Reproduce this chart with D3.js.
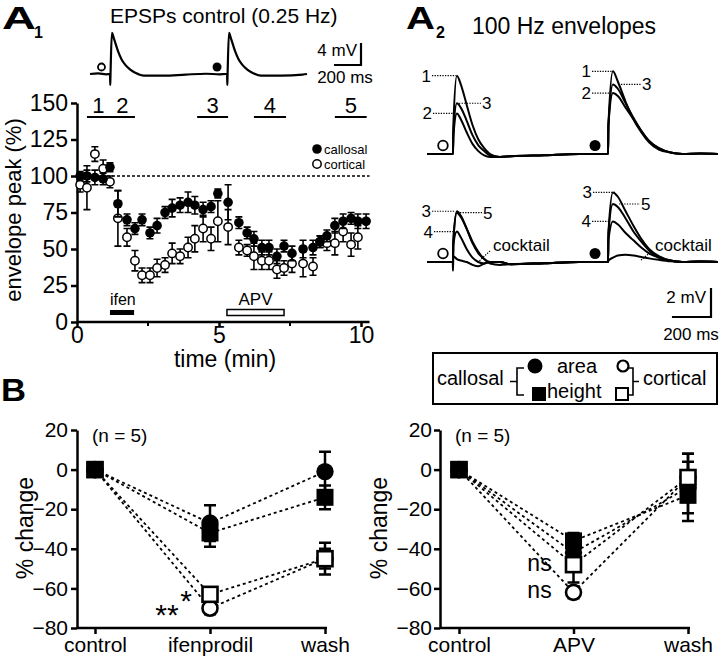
<!DOCTYPE html>
<html><head><meta charset="utf-8">
<script src="https://cdn.jsdelivr.net/npm/d3@7"></script>
<style>
body{margin:0;background:#fff}
svg{display:block;background:#fff}
text{font-family:"Liberation Sans",Arial,Helvetica,sans-serif;fill:#000}
</style>
</head><body>
<svg id="c" width="720" height="658"></svg>
<script>
// ================= DATA =================
// A1 time course (minutes) and envelope peak (%)
const timeMin      = [0.11,0.35,0.63,0.92,1.16,1.44,1.76,2.04,2.29,2.57,2.82,3.10,3.35,3.63,3.91,4.15,4.44,4.72,4.96,5.32,5.70,5.99,6.23,6.51,6.76,7.04,7.29,7.57,7.96,8.31,8.56,8.80,9.08,9.37,9.65,9.89,10.18];
const callosalPeak = [100,100,99,98,106,81,70,64,70,61,66,75,78,80,82,80,77,79,88,82,68,61,57,51,51,45,52,47,50,51,55,59,66,69,71,69,69];
const callosalSEM  = [3,4,5,4,3,9,4,4,4,4,5,4,6,5,7,6,5,4,3,12,4,4,5,5,5,5,4,5,6,5,4,4,5,5,4,5,5];
const corticalPeak = [94,92,115,105,96,71,58,42,32,32,37,39,47,45,51,57,64,57,69,65,51,49,45,42,42,36,37,40,40,38,55,54,54,62,53,58,null];
const corticalSEM  = [5,15,5,6,4,19,6,7,5,5,6,5,7,5,7,9,9,8,14,12,5,4,9,6,6,6,5,6,9,6,4,5,8,7,8,8,0];
const peakTicks = [0,25,50,75,100,125,150];
const timeTicks = [0,5,10];
const timeMinorTicks = [2.5,7.5];
const periodLabels = ['1','2','3','4','5'];
const periodStart  = [0.35,1.16,4.23,6.23,9.08];
const periodEnd    = [1.16,2.04,5.32,7.36,10.2];
const drugLabels = ['ifen','APV'];
const drugStart  = [1.16,5.28];
const drugEnd    = [2.01,7.29];

// A1 EPSP example (ms after onset, mV)
const epspMs = [0,2,4,14,30,60,85,112,150,190,250,400,560];
const epspMv = [0,-2,0,7.5,6.4,4.1,2.7,1.7,0.8,0.2,-0.3,-0.3,-0.1];
const epspOnsets = [148,1015];

// A2 envelopes (ms after onset, mV)
const envMsCort = [-1,0,2,20,40,70,100,130,160,190,240];
const env1Cort  = [0,0,2,5.4,4.8,3.4,2.0,1.0,0.4,0.0,-0.2];
const env2Cort  = [0,0,1.2,2.8,2.4,1.5,0.7,0.2,-0.1,-0.2,-0.2];
const env3Cort  = [0,0,1.5,3.5,3.2,2.3,1.3,0.6,0.2,-0.1,-0.2];
const env4Cort  = [0,0,1.2,2.1,1.7,0.9,0.3,0,-0.1,0,0];
const env5Cort  = [0,0,1.5,3.4,3.1,2.3,1.4,0.7,0.2,0,0];
const envCockCort = [0,-0.6,0.4,0.2,0.1,0,-0.2,-0.3,-0.1,0,0];
const envMsCall = [-1,0,2,25,50,90,130,170,210,260,320,380];
const env1Call  = [0,0,2,5.7,5.0,3.6,2.4,1.5,0.8,0.3,0.1,0];
const env2Call  = [0,0,2,4.2,4.0,3.2,2.4,1.6,0.9,0.4,0.1,0];
const env3Call  = [0,0,2,4.8,4.5,3.5,2.5,1.6,0.9,0.4,0.1,0];
const env4Call  = [0,0,1.5,2.8,2.6,2.0,1.5,1.0,0.6,0.3,0.1,0];
const env5Call  = [0,0,2,4.0,3.8,3.0,2.1,1.4,0.8,0.3,0.1,0];
const envCockCall = [0,0,0.1,0.3,0.45,0.5,0.45,0.35,0.25,0.15,0.05,0];
const envOnsets = [133,927];

// B data (% change)
const catsIfen = ['control','ifenprodil','wash'];
const ifCallArea = [0,-27,-1],  ifCallAreaErr = [0,9,10];
const ifCallHeight = [0,-32,-14], ifCallHeightErr = [0,7,6];
const ifCortArea = [0,-70,-45], ifCortAreaErr = [0,3,5];
const ifCortHeight = [0,-63,-45], ifCortHeightErr = [0,3,8];
const catsApv = ['control','APV','wash'];
const apCallArea = [0,-42,-9],  apCallAreaErr = [0,5,17];
const apCallHeight = [0,-36,-13], apCallHeightErr = [0,4,9];
const apCortArea = [0,-62,-4], apCortAreaErr = [0,3,8];
const apCortHeight = [0,-48,-4], apCortHeightErr = [0,9,12];
const changeTicks = [20,0,-20,-40,-60,-80];

// ================= DRAW =================
const F = '"Liberation Sans", Arial, Helvetica, sans-serif';
const svg = d3.select('#c');

function styleAxis(g, fs){
  g.attr('font-family', F).attr('font-size', fs);
  g.selectAll('line').attr('stroke','#000').attr('stroke-width',2.5);
  g.selectAll('.domain').attr('stroke','#000').attr('stroke-width',2.5);
  g.selectAll('text').attr('fill','#000');
}
function txt(x,y,s,fs,anchor,weight){
  return svg.append('text').attr('x',x).attr('y',y).text(s)
    .attr('font-size',fs).attr('text-anchor',anchor||'start').attr('font-weight',weight||'normal');
}

// ---- Panel labels / titles ----
txt(2,29,'A',31,'start','bold').attr('textLength',34).attr('lengthAdjust','spacingAndGlyphs');
txt(34,38,'1',16,'start','bold');
txt(110,23,'EPSPs control (0.25 Hz)',21);
txt(406,29,'A',31,'start','bold').attr('textLength',29).attr('lengthAdjust','spacingAndGlyphs');
txt(436,38,'2',16,'start','bold');
txt(472,34,'100 Hz envelopes',23);
txt(1,401,'B',31,'start','bold').attr('textLength',25).attr('lengthAdjust','spacingAndGlyphs');

// ---- A1 EPSP trace ----
const xTr = d3.scaleLinear().domain([0,1607]).range([90,307]);
const yTr = d3.scaleLinear().domain([0,1]).range([74,68.5]);
let trPts = [[0,0],[60,0.1],[120,-0.05]];
epspOnsets.forEach((on,k)=>{
  epspMs.forEach((m,i)=>trPts.push([on+m, epspMv[i]]));
  if(k===0){ trPts.push([860,0.05],[960,-0.05],[1005,0]); }
});
trPts.push([1607,0]);
const lineTr = d3.line().x(d=>xTr(d[0])).y(d=>yTr(d[1])).curve(d3.curveMonotoneX);
svg.append('path').attr('d',lineTr(trPts)).attr('fill','none').attr('stroke','#000').attr('stroke-width',2.2);
svg.append('circle').attr('cx',xTr(epspOnsets[0])-8.5).attr('cy',67).attr('r',3.5).attr('fill','#fff').attr('stroke','#000').attr('stroke-width',1.8);
svg.append('circle').attr('cx',xTr(epspOnsets[1])-10).attr('cy',67).attr('r',4.5).attr('fill','#000');
// scale bar 4 mV / 200 ms
{
  const bx = 361, by = 65;
  const h = yTr(0)-yTr(4), w = xTr(200)-xTr(0);
  svg.append('path').attr('d',`M${bx},${by-h}V${by}H${bx-w}`).attr('fill','none').attr('stroke','#000').attr('stroke-width',2.2);
  txt(bx-4,by-9,'4 mV',17,'end');
  txt(345,83,'200 ms',17,'middle');
}

// ---- A1 time course ----
const xA1 = d3.scaleLinear().domain([0,10]).range([77,361]);
const yA1 = d3.scaleLinear().domain([0,150]).range([322,103]);
{
  const gy = svg.append('g').attr('transform','translate(77,0)')
    .call(d3.axisLeft(yA1).tickValues(peakTicks).tickSize(6).tickSizeOuter(0).tickPadding(3));
  styleAxis(gy,23);
  const gx = svg.append('g').attr('transform','translate(0,322)')
    .call(d3.axisBottom(xA1).tickValues(timeTicks).tickSize(5).tickSizeOuter(0).tickPadding(0));
  styleAxis(gx,23);
  gx.select('.domain').attr('d',`M${xA1(0)},0H${xA1(10.3)}`);
  timeMinorTicks.forEach(t=>svg.append('line').attr('x1',xA1(t)).attr('x2',xA1(t)).attr('y1',322).attr('y2',326).attr('stroke','#000').attr('stroke-width',2));
  txt(225,367,'time (min)',23,'middle');
  svg.append('text').attr('transform','translate(21,210) rotate(-90)').attr('text-anchor','middle').attr('font-size',22).text('envelope peak (%)');
  // 100% dashed line
  svg.append('line').attr('x1',xA1(0)).attr('x2',xA1(10.3)).attr('y1',yA1(100)).attr('y2',yA1(100))
    .attr('stroke','#000').attr('stroke-width',1.5).attr('stroke-dasharray','3,2');
  // periods
  periodLabels.forEach((p,i)=>{
    svg.append('line').attr('x1',xA1(periodStart[i])).attr('x2',xA1(periodEnd[i])).attr('y1',117).attr('y2',117).attr('stroke','#000').attr('stroke-width',2);
    txt((xA1(periodStart[i])+xA1(periodEnd[i]))/2,113,p,22,'middle');
  });
  // drug bars
  drugLabels.forEach((d,i)=>{
    const x0 = xA1(drugStart[i]), x1 = xA1(drugEnd[i]);
    svg.append('rect').attr('x',x0).attr('y',i===0?310:309.5).attr('width',x1-x0).attr('height',i===0?5:6)
      .attr('fill',i===0?'#000':'#fff').attr('stroke','#000').attr('stroke-width',i===0?0:1.5);
    if(i===0) txt(x0,305,d,16,'start'); else txt((x0+x1)/2,305,d,17,'middle');
  });
  // data: cortical (open) then callosal (filled)
  function drawSeries(vals, errs, filled){
    const g = svg.append('g');
    vals.forEach((v,i)=>{
      if(v===null) return;
      const x = xA1(timeMin[i]);
      const e = errs[i];
      if(e>0){
        g.append('path').attr('d',`M${x},${yA1(v-e)}V${yA1(v+e)}M${x-3.5},${yA1(v+e)}H${x+3.5}M${x-3.5},${yA1(v-e)}H${x+3.5}`)
          .attr('stroke','#000').attr('stroke-width',1.6).attr('fill','none');
      }
    });
    vals.forEach((v,i)=>{
      if(v===null) return;
      g.append('circle').attr('cx',xA1(timeMin[i])).attr('cy',yA1(v)).attr('r',filled?4.8:4.2)
        .attr('fill',filled?'#000':'#fff').attr('stroke','#000').attr('stroke-width',filled?0:1.5);
    });
  }
  drawSeries(corticalPeak, corticalSEM, false);
  drawSeries(callosalPeak, callosalSEM, true);
  // legend
  svg.append('circle').attr('cx',317).attr('cy',149).attr('r',4.8).attr('fill','#000');
  svg.append('circle').attr('cx',317).attr('cy',164).attr('r',4.2).attr('fill','#fff').attr('stroke','#000').attr('stroke-width',1.5);
  txt(324,153.5,'callosal',13);
  txt(324,168.5,'cortical',13);
}

// ---- A2 envelopes ----
const xA2 = d3.scaleLinear().domain([0,1490]).range([427,718]);
const yA2top = d3.scaleLinear().domain([0,1]).range([154,139.5]);
const yA2bot = d3.scaleLinear().domain([0,1]).range([262,247.5]);
function sweep(cortMv, callMv){
  const pts = [[0,0],[80,0]];
  envMsCort.forEach((m,i)=>pts.push([envOnsets[0]+m, cortMv[i]]));
  pts.push([430,-0.15],[600,-0.08],[780,0],[880,0]);
  envMsCall.forEach((m,i)=>pts.push([envOnsets[1]+m, callMv[i]]));
  pts.push([1400,0.03],[1490,0]);
  return pts;
}
function drawTrace(ys, cortMv, callMv){
  const ln = d3.line().x(d=>xA2(d[0])).y(d=>ys(d[1])).curve(d3.curveMonotoneX);
  svg.append('path').attr('d',ln(sweep(cortMv,callMv))).attr('fill','none').attr('stroke','#000').attr('stroke-width',2);
}
drawTrace(yA2top, env2Cort, env2Call);
drawTrace(yA2top, env3Cort, env3Call);
drawTrace(yA2top, env1Cort, env1Call);
drawTrace(yA2bot, envCockCort, envCockCall);
drawTrace(yA2bot, env4Cort, env4Call);
drawTrace(yA2bot, env5Cort, env5Call);
drawTrace(yA2bot, env3Cort, env3Call);
[yA2top, yA2bot].forEach(ys=>{
  svg.append('circle').attr('cx',xA2(envOnsets[0])-10).attr('cy',ys(0)-8.5).attr('r',4.8).attr('fill','#fff').attr('stroke','#000').attr('stroke-width',1.8);
  svg.append('circle').attr('cx',xA2(envOnsets[1])-13).attr('cy',ys(0)-8.5).attr('r',5.5).attr('fill','#000');
});
function leader(x1,x2,y){
  svg.append('line').attr('x1',x1).attr('x2',x2).attr('y1',y).attr('y2',y).attr('stroke','#000').attr('stroke-width',1.2).attr('stroke-dasharray','1.3,1.3');
}
function lblLeft(s, ys, mv, xTrace, len){
  const y = ys(mv), xl = xTrace - len;
  leader(xl, xTrace, y);
  txt(xl-1, y+6, s, 17, 'end');
}
function lblRight(s, ys, mv, xTrace, len){
  const y = ys(mv), xr = xTrace + len;
  leader(xTrace, xr, y);
  txt(xr+1, y+6, s, 17, 'start');
}
{
  const cL = xA2(envOnsets[0]), cR = xA2(envOnsets[1]);
  lblLeft('1', yA2top, d3.max(env1Cort), cL+3, 24);
  lblLeft('2', yA2top, d3.max(env2Cort), cL+1, 21);
  lblRight('3', yA2top, d3.max(env3Cort), cL+6, 22);
  lblLeft('1', yA2top, d3.max(env1Call), cR+6, 22);
  lblLeft('2', yA2top, d3.max(env2Call), cR+2, 18);
  lblRight('3', yA2top, d3.max(env3Call), cR+13, 20);
  lblLeft('3', yA2bot, d3.max(env3Cort), cL+2, 23);
  lblRight('5', yA2bot, d3.max(env5Cort), cL+7, 22);
  lblLeft('4', yA2bot, d3.max(env4Cort), cL, 19);
  lblLeft('3', yA2bot, d3.max(env3Call), cR+7, 22);
  lblRight('5', yA2bot, d3.max(env5Call), cR+11, 21);
  lblLeft('4', yA2bot, d3.max(env4Call), cR+2, 18);
  // cocktail labels
  svg.append('line').attr('x1',490).attr('y1',251).attr('x2',477).attr('y2',263).attr('stroke','#000').attr('stroke-width',1.2).attr('stroke-dasharray','1.3,1.3');
  txt(493,251,'cocktail',17);
  svg.append('line').attr('x1',652).attr('y1',251).attr('x2',640).attr('y2',261).attr('stroke','#000').attr('stroke-width',1.2).attr('stroke-dasharray','1.3,1.3');
  txt(655,251,'cocktail',17);
  // scale bar 2 mV / 200 ms
  const bx = 711, by = 317;
  const h = yA2top(0)-yA2top(2), w = xA2(200)-xA2(0);
  svg.append('path').attr('d',`M${bx},${by-h}V${by}H${bx-w}`).attr('fill','none').attr('stroke','#000').attr('stroke-width',2.2);
  txt(bx-5,by-14,'2 mV',17,'end');
  txt(691,340,'200 ms',17,'middle');
}

// ---- Legend box ----
{
  svg.append('rect').attr('x',433).attr('y',353).attr('width',284).attr('height',51).attr('fill','#fff').attr('stroke','#000').attr('stroke-width',2);
  txt(437,385,'callosal',20);
  svg.append('path').attr('d','M524,368H517V395H524M517,381.5H510').attr('fill','none').attr('stroke','#000').attr('stroke-width',1.6);
  svg.append('circle').attr('cx',535).attr('cy',366).attr('r',7.5).attr('fill','#000');
  svg.append('rect').attr('x',532).attr('y',387).attr('width',14).attr('height',14).attr('fill','#000');
  txt(557,373,'area',20);
  txt(547,398,'height',20);
  svg.append('circle').attr('cx',623).attr('cy',366).attr('r',5.5).attr('fill','#fff').attr('stroke','#000').attr('stroke-width',2.2);
  svg.append('rect').attr('x',616).attr('y',388).attr('width',12).attr('height',12).attr('fill','#fff').attr('stroke','#000').attr('stroke-width',2);
  svg.append('path').attr('d','M627,368H633V395H627M633,381.5H639').attr('fill','none').attr('stroke','#000').attr('stroke-width',1.6);
  txt(643,385,'cortical',20);
}

// ---- Panels B ----
const yB = d3.scaleLinear().domain([-80,20]).range([628,430]);
function panelB(axisX, x0, x1, xEnd, cats, series, padY){
  const xs = d3.scalePoint().domain(cats).range([x0,x1]);
  const gy = svg.append('g').attr('transform',`translate(${axisX},0)`)
    .call(d3.axisLeft(yB).tickValues(changeTicks).tickSize(6).tickSizeOuter(0).tickPadding(padY));
  styleAxis(gy,21);
  const gx = svg.append('g').attr('transform','translate(0,628)')
    .call(d3.axisBottom(xs).tickSize(6).tickSizeOuter(0).tickPadding(3));
  styleAxis(gx,21);
  gx.select('.domain').attr('d',`M${axisX},0H${xEnd}`);
  txt(axisX+15,442,'(n = 5)',19);
  // dashed lines
  series.forEach(s=>{
    const ln = d3.line().x((d,i)=>xs(cats[i])).y(d=>yB(d));
    svg.append('path').attr('d',ln(s.vals)).attr('fill','none').attr('stroke','#000').attr('stroke-width',1.8).attr('stroke-dasharray','3,3');
  });
  // error bars
  series.forEach(s=>{
    s.vals.forEach((v,i)=>{
      const e = s.errs[i]; if(!e) return;
      const x = xs(cats[i]);
      svg.append('path').attr('d',`M${x},${yB(v-e)}V${yB(v+e)}M${x-6},${yB(v+e)}H${x+6}M${x-6},${yB(v-e)}H${x+6}`)
        .attr('fill','none').attr('stroke','#000').attr('stroke-width',2.5);
    });
  });
  // markers
  series.forEach(s=>{
    s.vals.forEach((v,i)=>{
      const x = xs(cats[i]), y = yB(v);
      if(s.shape==='circle'){
        svg.append('circle').attr('cx',x).attr('cy',y).attr('r',s.filled?8.7:7.5)
          .attr('fill',s.filled?'#000':'#fff').attr('stroke','#000').attr('stroke-width',s.filled?0:2.6);
      } else {
        const sz = s.filled?17:15;
        svg.append('rect').attr('x',x-sz/2).attr('y',y-sz/2).attr('width',sz).attr('height',sz)
          .attr('fill',s.filled?'#000':'#fff').attr('stroke','#000').attr('stroke-width',s.filled?0:2.6);
      }
    });
  });
  return xs;
}
const xsL = panelB(77, 95, 325, 327, catsIfen, [
  {vals:ifCortArea, errs:ifCortAreaErr, shape:'circle', filled:false},
  {vals:ifCallArea, errs:ifCallAreaErr, shape:'circle', filled:true},
  {vals:ifCortHeight, errs:ifCortHeightErr, shape:'square', filled:false},
  {vals:ifCallHeight, errs:ifCallHeightErr, shape:'square', filled:true}
], 3);
const xsR = panelB(440, 459, 688, 690, catsApv, [
  {vals:apCortArea, errs:apCortAreaErr, shape:'circle', filled:false},
  {vals:apCallArea, errs:apCallAreaErr, shape:'circle', filled:true},
  {vals:apCortHeight, errs:apCortHeightErr, shape:'square', filled:false},
  {vals:apCallHeight, errs:apCallHeightErr, shape:'square', filled:true}
], 2);
svg.append('text').attr('transform','translate(33,528) rotate(-90)').attr('text-anchor','middle').attr('font-size',23).text('% change');
svg.append('text').attr('transform','translate(387,528) rotate(-90)').attr('text-anchor','middle').attr('font-size',23).text('% change');
// significance
txt(xsL('ifenprodil')-24, yB(ifCortHeight[1])+17, '*', 30, 'middle');
txt(xsL('ifenprodil')-43, yB(ifCortArea[1])+17, '**', 30, 'middle');
txt(xsR('APV')-34, yB(apCortHeight[1])+6, 'ns', 23, 'middle');
txt(xsR('APV')-34, yB(apCortArea[1])+6, 'ns', 23, 'middle');
</script>
</body></html>
